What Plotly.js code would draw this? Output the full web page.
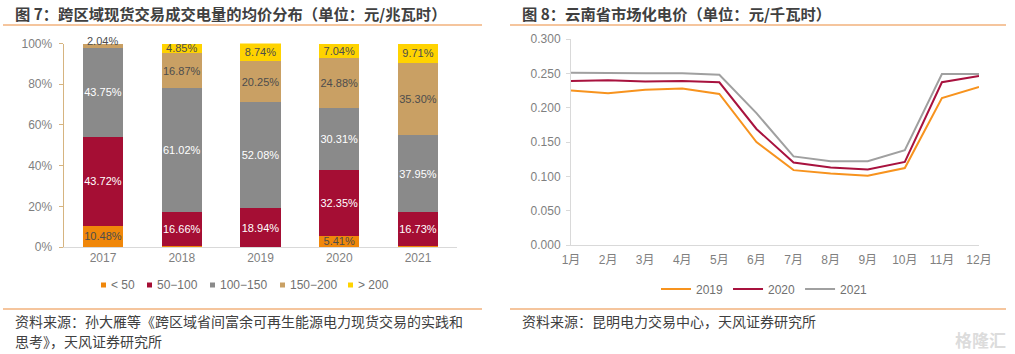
<!DOCTYPE html>
<html><head><meta charset="utf-8">
<script src="https://cdn.plot.ly/plotly-3.0.1.min.js"></script>
<style>html,body{margin:0;padding:0;background:#fff}</style>
</head><body><div id="chart" style="width:1015px;height:354px"></div>
<script>
// ---- Figure 7 data: share of cross-region spot volume by average price bin ----
const years = ['2017', '2018', '2019', '2020', '2021'];
const binNames = ['&lt; 50', '50−100', '100−150', '150−200', '&gt; 200'];
const binLt50 = [10.48, 0.6, 0, 5.41, 0.31];
const bin50to100 = [43.72, 16.66, 18.94, 32.35, 16.73];
const bin100to150 = [43.75, 61.02, 52.08, 30.31, 37.95];
const bin150to200 = [2.04, 16.87, 20.25, 24.88, 35.30];
const binGt200 = [0, 4.85, 8.74, 7.04, 9.71];

// ---- Figure 8 data: Yunnan market electricity price (yuan/kWh) ----
const months = ['1月', '2月', '3月', '4月', '5月', '6月', '7月', '8月', '9月', '10月', '11月', '12月'];
const seriesNames = ['2019', '2020', '2021'];
const price2019 = [0.225, 0.221, 0.226, 0.228, 0.220, 0.150, 0.109, 0.104, 0.101, 0.112, 0.214, 0.230];
const price2020 = [0.239, 0.240, 0.238, 0.239, 0.237, 0.169, 0.120, 0.113, 0.110, 0.121, 0.237, 0.246];
const price2021 = [0.251, 0.250, 0.250, 0.250, 0.248, 0.192, 0.129, 0.122, 0.122, 0.138, 0.249, 0.249];

// ---- styles ----
const W = 1015, H = 354;
const px = v => v / W;
const py = v => 1 - v / H;
const binColors = ['#F0870A', '#A50E34', '#8A8A8A', '#C9A064', '#FFD300'];
const binTextColors = ['#4D4D4D', '#FFFFFF', '#FFFFFF', '#4D4D4D', '#4D4D4D'];
const lineColors = ['#F7931E', '#A8123E', '#A0A0A0'];
const cjk = 'Noto Sans CJK SC, sans-serif';
const latin = 'Liberation Sans, Arial, Noto Sans CJK SC, sans-serif';
// left-hand legend layout (pixel x of each swatch, legend row y)
const legendSwatchX = [101, 147, 210, 280, 348];
const legendRowY = 285;

const bins = [binLt50, bin50to100, bin100to150, bin150to200, binGt200];
const fmt = v => v.toFixed(2) + '%';

const traces = [];
bins.forEach((vals, j) => {
  traces.push({
    type: 'bar', x: years, y: vals, name: binNames[j], xaxis: 'x', yaxis: 'y',
    marker: {color: binColors[j]},
    text: vals.map(v => v >= 3 ? fmt(v) : ''),
    textposition: 'inside', insidetextanchor: 'middle', textangle: 0, constraintext: 'none',
    insidetextfont: {family: latin, size: 11, color: binTextColors[j]},
    showlegend: false, hoverinfo: 'skip'
  });
});
[price2019, price2020, price2021].forEach((vals, k) => {
  traces.push({
    type: 'scatter', mode: 'lines', x: months, y: vals, name: seriesNames[k],
    xaxis: 'x2', yaxis: 'y2', legend: 'legend2',
    line: {color: lineColors[k], width: 2}, hoverinfo: 'skip'
  });
});

const annotations = [];
const shapes = [];
// small segments labelled above their stack
years.forEach((yr, i) => {
  const total = bins.reduce((s, b) => s + b[i], 0);
  bins.forEach((b, j) => {
    if (b[i] >= 1 && b[i] < 3) {
      annotations.push({xref: 'x', yref: 'y', x: i, y: total, yanchor: 'bottom', yshift: -5,
        text: fmt(b[i]), showarrow: false, font: {family: latin, size: 11, color: '#4D4D4D'}});
    }
  });
});
// compact legend for the stacked bars: small square swatch + label
binNames.forEach((name, j) => {
  const x0 = legendSwatchX[j];
  shapes.push({type: 'rect', xref: 'paper', yref: 'paper', x0: px(x0), x1: px(x0 + 5),
    y0: py(legendRowY + 2.5), y1: py(legendRowY - 2.5), fillcolor: binColors[j], line: {width: 0}});
  annotations.push({xref: 'paper', yref: 'paper', x: px(x0 + 7.5), y: py(legendRowY), xanchor: 'left', yanchor: 'middle',
    showarrow: false, text: name, font: {family: latin, size: 12, color: '#707070'}});
});
annotations.push(
  {xref: 'paper', yref: 'paper', x: px(13), y: py(13), xanchor: 'left', yanchor: 'middle', showarrow: false,
   text: '<b>图 7：跨区域现货交易成交电量的均价分布（单位：元/兆瓦时）</b>', font: {family: cjk, size: 15.3, color: '#404040'}},
  {xref: 'paper', yref: 'paper', x: px(520), y: py(13), xanchor: 'left', yanchor: 'middle', showarrow: false,
   text: '<b>图 8：云南省市场化电价（单位：元/千瓦时）</b>', font: {family: cjk, size: 15.3, color: '#404040'}},
  {xref: 'paper', yref: 'paper', x: px(13), y: py(321), xanchor: 'left', yanchor: 'middle', showarrow: false,
   text: '资料来源：孙大雁等《跨区域省间富余可再生能源电力现货交易的实践和', font: {family: cjk, size: 14, color: '#404040'}},
  {xref: 'paper', yref: 'paper', x: px(13), y: py(341), xanchor: 'left', yanchor: 'middle', showarrow: false,
   text: '思考》，天风证券研究所', font: {family: cjk, size: 14, color: '#404040'}},
  {xref: 'paper', yref: 'paper', x: px(520), y: py(321), xanchor: 'left', yanchor: 'middle', showarrow: false,
   text: '资料来源：昆明电力交易中心，天风证券研究所', font: {family: cjk, size: 14, color: '#404040'}},
  {xref: 'paper', yref: 'paper', x: px(1008), y: py(339), xanchor: 'right', yanchor: 'middle', showarrow: false,
   text: '<b>格隆汇</b>', font: {family: cjk, size: 17, color: 'rgba(190,190,190,0.55)'}}
);

const rule = (x0, x1, y) => ({type: 'line', xref: 'paper', yref: 'paper', x0: px(x0), x1: px(x1), y0: py(y), y1: py(y),
  line: {color: '#EC8B3D', width: 1.2}});
shapes.push(rule(3, 482, 25), rule(510, 1006, 25), rule(3, 482, 309), rule(510, 1006, 309));

const layout = {
  width: W, height: H, margin: {l: 0, r: 0, t: 0, b: 0},
  paper_bgcolor: '#FFFFFF', plot_bgcolor: '#FFFFFF',
  font: {family: latin, size: 12, color: '#7F7F7F'},
  barmode: 'stack', bargap: 0.49,
  xaxis: {domain: [px(63.6), px(457.4)], anchor: 'y', type: 'category', showline: true, linecolor: '#D9D9D9',
    ticks: '', showgrid: false, fixedrange: true, tickfont: {size: 12, color: '#7F7F7F'}},
  yaxis: {domain: [py(247), py(43.5)], anchor: 'x', type: 'linear', range: [0, 100], tickmode: 'array',
    tickvals: [0, 20, 40, 60, 80, 100], ticktext: ['0%', '20%', '40%', '60%', '80%', '100%'],
    showgrid: false, zeroline: false, showline: true, linecolor: '#D6B480', ticks: 'outside', ticklen: 4,
    tickcolor: '#D6B480', ticklabelstandoff: 4, fixedrange: true, tickfont: {size: 12, color: '#7F7F7F'}},
  xaxis2: {domain: [px(571), px(979)], anchor: 'y2', type: 'category', showline: true, linecolor: '#D9D9D9',
    ticks: '', showgrid: false, ticklabelstandoff: 4, fixedrange: true, tickfont: {size: 12, color: '#7F7F7F'}},
  yaxis2: {domain: [py(245), py(39)], anchor: 'x2', range: [0, 0.3], dtick: 0.05, tick0: 0, tickformat: '.3f',
    showgrid: false, zeroline: false, showline: true, linecolor: '#D9D9D9', ticks: 'outside', ticklen: 4,
    tickcolor: '#D9D9D9', ticklabelstandoff: 3, fixedrange: true, tickfont: {size: 12, color: '#7F7F7F'}},
  legend2: {orientation: 'h', x: px(656), y: py(289), xanchor: 'left', yanchor: 'middle', traceorder: 'normal',
    bgcolor: 'rgba(0,0,0,0)', font: {family: latin, size: 12, color: '#707070'}},
  shapes: shapes,
  annotations: annotations
};

Plotly.newPlot('chart', traces, layout, {displayModeBar: false, staticPlot: true});
</script>
</body></html>
